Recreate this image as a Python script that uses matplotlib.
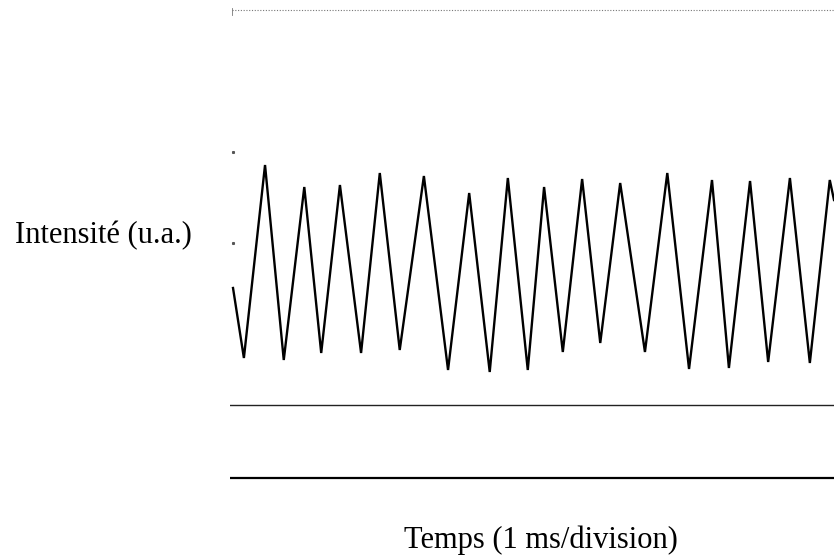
import matplotlib.pyplot as plt

# extrema of the recorded signal: time (ms) and intensity (a.u.)
temps = [0.05, 0.23, 0.58, 0.89, 1.23, 1.51, 1.82, 2.17, 2.48, 2.81,
         3.21, 3.61, 3.96, 4.30, 4.60, 4.93, 5.20, 5.51, 5.83, 6.13,
         6.46, 6.87, 7.24, 7.60, 7.98, 8.26, 8.61, 8.91, 9.27, 9.60, 9.93, 10.0]
intensite = [1.90, 1.20, 3.13, 1.18, 2.91, 1.25, 2.93, 1.25, 3.05, 1.28,
             3.02, 1.08, 2.85, 1.06, 3.00, 1.08, 2.91, 1.26, 2.99, 1.35,
             2.95, 1.26, 3.05, 1.09, 2.98, 1.10, 2.97, 1.16, 3.00, 1.15, 2.98, 2.78]

niveau_ref = 0.73      # trace horizontale superieure
niveau_zero = 0.0      # ligne de base
niveau_haut = 4.68     # limite haute de l'ecran (pointillee)

plt.rcParams['font.family'] = ['Liberation Serif', 'DejaVu Serif']

fig = plt.figure(figsize=(8.34, 5.58), dpi=100)
ax = fig.add_axes([230 / 834, 0, 604 / 834, 1])
ax.set_xlim(0, 10)
ax.set_ylim(-0.8, 4.78)
ax.axis('off')

ax.plot(temps, intensite, c='black', lw=1.7, solid_joinstyle='miter')
ax.plot([0.0, 10], [niveau_ref, niveau_ref], c='#222222', lw=1.0)
ax.plot([-0.03, 10], [niveau_zero, niveau_zero], c='black', lw=1.6)
ax.plot([0.03, 10], [niveau_haut, niveau_haut], c='#777777', lw=0.8, ls=(0, (1, 1.5)))
ax.plot([0.03, 0.03], [niveau_haut - 0.05, niveau_haut + 0.02], c='#777777', lw=0.6)
ax.plot([0.05, 0.05], [3.26, 2.35], ls='none', marker='s', ms=1.2, c='#555555')

fig.text(103 / 834, 1 - 236 / 558, 'Intensité (u.a.)', fontsize=22,
         ha='center', va='center')
fig.text(541 / 834, 1 - 540 / 558, 'Temps (1 ms/division)', fontsize=22,
         ha='center', va='center')

fig.savefig('out.png', dpi=100)
